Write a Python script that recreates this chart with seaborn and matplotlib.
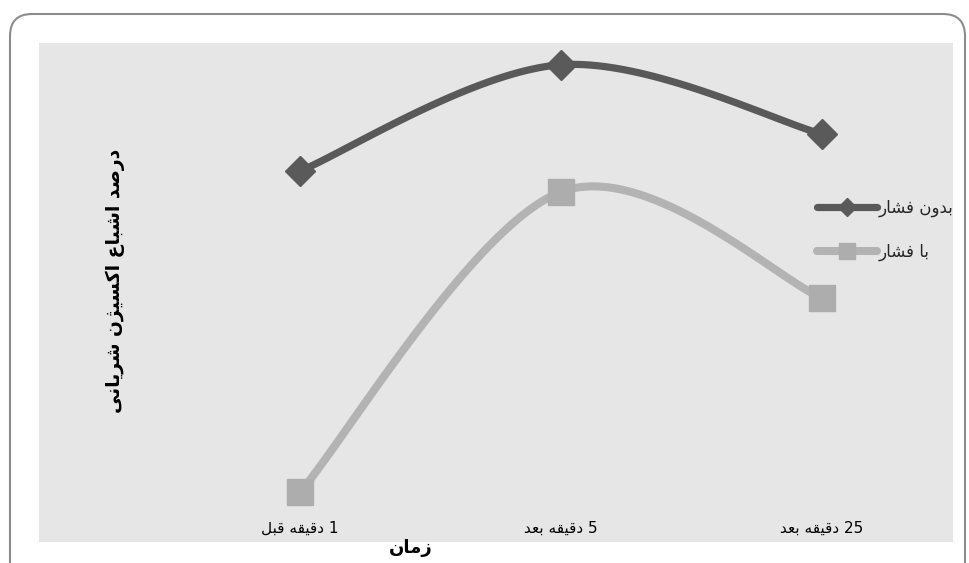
import numpy as np
import pandas as pd
import matplotlib
matplotlib.use("Agg")
import matplotlib.pyplot as plt
import seaborn as sns
from matplotlib.patches import FancyBboxPatch, Rectangle
from matplotlib.transforms import IdentityTransform
from matplotlib.lines import Line2D
from matplotlib import font_manager, ft2font

# ---------------- data ----------------
categories = ["1 دقیقه قبل", "5 دقیقه بعد", "25 دقیقه بعد"]
series_names = ["بدون فشار", "با فشار"]
without_pressure = [73.8, 96.8, 81.8]
with_pressure = [4.3, 69.3, 46.3]
y_label = "درصد اشباع اکسیژن شریانی"
x_label = "زمان"

# ---------------- simple Arabic/Persian shaping ----------------
FORMS = {
    '\u0627': (0xFE8D, 0xFE8E, None, None),
    '\u0628': (0xFE8F, 0xFE90, 0xFE91, 0xFE92),
    '\u062A': (0xFE95, 0xFE96, 0xFE97, 0xFE98),
    '\u062F': (0xFEA9, 0xFEAA, None, None),
    '\u0631': (0xFEAD, 0xFEAE, None, None),
    '\u0632': (0xFEAF, 0xFEB0, None, None),
    '\u0698': (0xFB8A, 0xFB8B, None, None),
    '\u0633': (0xFEB1, 0xFEB2, 0xFEB3, 0xFEB4),
    '\u0634': (0xFEB5, 0xFEB6, 0xFEB7, 0xFEB8),
    '\u0635': (0xFEB9, 0xFEBA, 0xFEBB, 0xFEBC),
    '\u0639': (0xFEC9, 0xFECA, 0xFECB, 0xFECC),
    '\u0641': (0xFED1, 0xFED2, 0xFED3, 0xFED4),
    '\u0642': (0xFED5, 0xFED6, 0xFED7, 0xFED8),
    '\u06A9': (0xFB8E, 0xFB8F, 0xFB90, 0xFB91),
    '\u0643': (0xFED9, 0xFEDA, 0xFEDB, 0xFEDC),
    '\u0644': (0xFEDD, 0xFEDE, 0xFEDF, 0xFEE0),
    '\u0645': (0xFEE1, 0xFEE2, 0xFEE3, 0xFEE4),
    '\u0646': (0xFEE5, 0xFEE6, 0xFEE7, 0xFEE8),
    '\u0647': (0xFEE9, 0xFEEA, 0xFEEB, 0xFEEC),
    '\u0648': (0xFEED, 0xFEEE, None, None),
    '\u06CC': (0xFBFC, 0xFBFD, 0xFBFE, 0xFBFF),
    '\u064A': (0xFEF1, 0xFEF2, 0xFEF3, 0xFEF4),
}
FALLBACK = {'\u06A9': '\u0643', '\u06CC': '\u064A', '\u0698': '\u0632'}

try:
    _cmap = ft2font.FT2Font(font_manager.findfont("DejaVu Sans")).get_charmap()
except Exception:
    _cmap = None


def _has(cp):
    return _cmap is None or cp in _cmap


def _forms(ch):
    f = FORMS[ch]
    if all(c is None or _has(c) for c in f):
        return f
    if ch in FALLBACK:
        return FORMS[FALLBACK[ch]]
    return f


def shape_word(word):
    out = []
    n = len(word)
    for i, ch in enumerate(word):
        if ch not in FORMS:
            out.append(ch)
            continue
        prev = word[i - 1] if i > 0 else None
        nxt = word[i + 1] if i < n - 1 else None
        f = _forms(ch)
        jp = prev is not None and prev in FORMS and FORMS[prev][2] is not None
        jn = nxt is not None and nxt in FORMS and f[2] is not None
        if jp and jn:
            cp = f[3]
        elif jp:
            cp = f[1]
        elif jn:
            cp = f[2]
        else:
            cp = f[0]
        out.append(chr(cp))
    return "".join(reversed(out))


def rtl(text):
    toks = text.split(" ")
    vis = []
    for t in toks:
        if any(c in FORMS for c in t):
            vis.append(shape_word(t))
        else:
            vis.append(t)
    return " ".join(reversed(vis))


# ---------------- figure ----------------
W, H, DPI = 969, 563, 100
sns.set_theme(style="white")
plt.rcParams['font.family'] = ['DejaVu Sans']
fig = plt.figure(figsize=(W / DPI, H / DPI), dpi=DPI)
fig.patch.set_facecolor("white")

def px(x0, y0, x1, y1):
    # top-origin pixel box -> figure fraction [l, b, w, h]
    return [x0 / W, 1 - y1 / H, (x1 - x0) / W, (y1 - y0) / H]

# gray chart area
fig.add_artist(Rectangle((39, H - 542), 953 - 39, 542 - 43, transform=IdentityTransform(),
                         facecolor="#e6e6e6", edgecolor="none", zorder=0))
# rounded outer border (cut off at right and bottom)
fig.add_artist(FancyBboxPatch((10, -40), 955, H - 14 + 40, transform=IdentityTransform(),
                              boxstyle="round,pad=0,rounding_size=22",
                              facecolor="none", edgecolor="#8c8c8c", linewidth=1.5, zorder=1))

ax = fig.add_axes(px(169.5, 50, 952.5, 512))
ax.set_facecolor("none")
ax.set_xlim(-0.5, 2.5)
ax.set_ylim(0, 100)
for s in ax.spines.values():
    s.set_visible(False)
ax.set_yticks([])
ax.set_xticks(range(len(categories)))
ax.set_xticklabels([rtl(c) for c in categories], fontsize=11, color="#000000")
ax.tick_params(axis="x", length=0, pad=6)


def smooth(xs, ys, n=60):
    P = ax.transData.transform(np.column_stack([xs, ys]))
    pts = []
    m = len(P)
    for i in range(m - 1):
        p0 = P[i - 1] if i > 0 else P[i]
        p1, p2 = P[i], P[i + 1]
        p3 = P[i + 2] if i + 2 < m else P[i + 1]
        c1 = p1 + (p2 - p0) / 6.0
        c2 = p2 - (p3 - p1) / 6.0
        t = np.linspace(0, 1, n)[:, None]
        seg = ((1 - t) ** 3) * p1 + 3 * ((1 - t) ** 2) * t * c1 + 3 * (1 - t) * t ** 2 * c2 + t ** 3 * p2
        pts.append(seg if i == 0 else seg[1:])
    pts = np.vstack(pts)
    return ax.transData.inverted().transform(pts)


xs = np.arange(len(categories))
styles = [
    (without_pressure, "#595959", "D", 15, 5.2),
    (with_pressure, "#b3b3b3", "s", 18.5, 5.8),
]
handles = []
for name, (vals, color, mk, ms, lw) in zip(series_names, styles):
    curve = smooth(xs, vals)
    df = pd.DataFrame({"x": curve[:, 0], "y": curve[:, 1]})
    sns.lineplot(data=df, x="x", y="y", ax=ax, color=color, linewidth=lw, sort=False,
                 estimator=None, solid_capstyle="round", solid_joinstyle="round")
    mcolor = "#5a5a5a" if mk == "D" else "#adadad"
    ax.plot(xs, vals, linestyle="none", marker=mk, markersize=ms,
            markerfacecolor=mcolor, markeredgecolor=mcolor, zorder=5, clip_on=False)
    handles.append(Line2D([0], [0], color=color, linewidth=lw, marker=mk,
                          markersize=ms * 0.62, markerfacecolor=mcolor,
                          markeredgecolor=mcolor, solid_capstyle="round"))
ax.set_xlabel("")
ax.set_ylabel("")

leg = fig.legend(handles, [rtl(s) for s in series_names], loc="center left",
                 bbox_to_anchor=(802 / W, 1 - 230 / H), frameon=False, fontsize=12,
                 handlelength=3.6, handletextpad=0.1, labelspacing=1.55)

fig.text(115 / W, 1 - 281 / H, rtl(y_label), rotation=90, ha="center", va="center",
         fontsize=13.5, fontweight="bold", color="black")
fig.text(411 / W, 1 - 548 / H, rtl(x_label), ha="center", va="center",
         fontsize=13, fontweight="bold", color="black")

fig.savefig("out.png", dpi=DPI, facecolor="white")
